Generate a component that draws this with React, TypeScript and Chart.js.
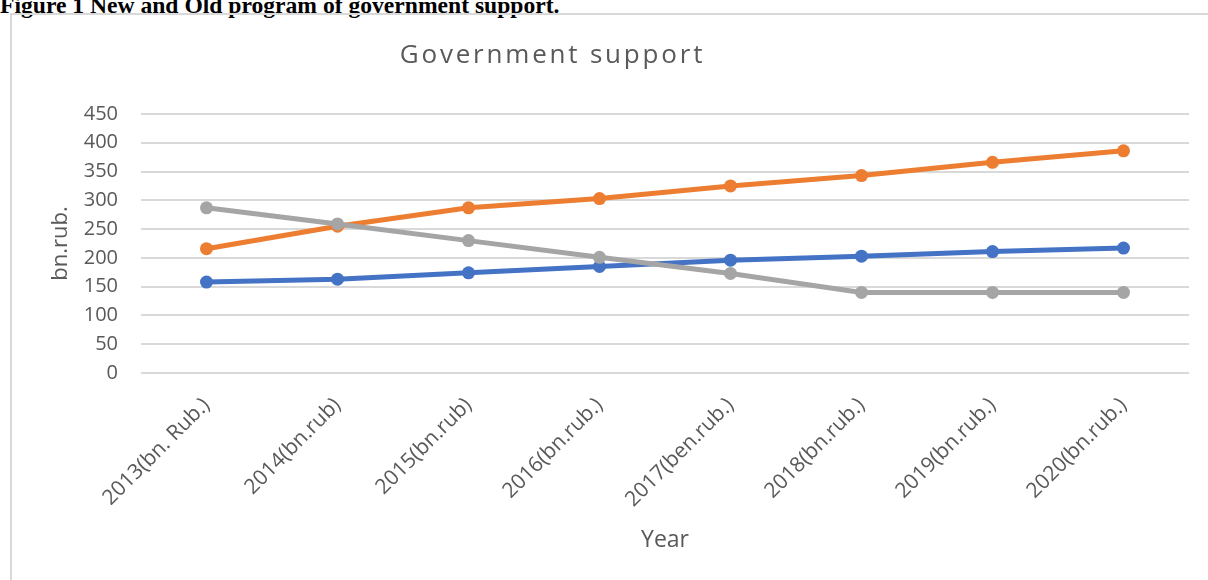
import React, { useEffect, useRef } from "react";
import { Chart, registerables } from "chart.js";

Chart.register(...registerables);

const categories = [
  "2013(bn. Rub.)",
  "2014(bn.rub)",
  "2015(bn.rub)",
  "2016(bn.rub.)",
  "2017(ben.rub.)",
  "2018(bn.rub.)",
  "2019(bn.rub.)",
  "2020(bn.rub.)",
];
const blueSeries = [158, 163, 174, 185, 196, 203, 211, 217];
const orangeSeries = [216, 255, 287, 303, 325, 343, 366, 386];
const graySeries = [287, 259, 230, 201, 173, 140, 140, 140];
const yTickValues = [0, 50, 100, 150, 200, 250, 300, 350, 400, 450];

const headingText = "Figure 1 New and Old program of government support.";
const chartTitle = "Government support";
const xTitle = "Year";
const yTitle = "bn.rub.";

export default function App() {
  const ref = useRef<HTMLCanvasElement | null>(null);

  useEffect(() => {
    if (!ref.current) return;
    const chart = new Chart(ref.current, {
      type: "line",
      data: {
        labels: categories,
        datasets: [
          {
            label: "Series 1",
            data: blueSeries,
            borderColor: "#4472C4",
            backgroundColor: "#4472C4",
            borderWidth: 5,
            pointRadius: 6.5,
            pointBorderWidth: 0,
            pointBackgroundColor: "#4472C4",
            order: 3,
          },
          {
            label: "Series 2",
            data: orangeSeries,
            borderColor: "#ED7D31",
            backgroundColor: "#ED7D31",
            borderWidth: 5,
            pointRadius: 6.5,
            pointBorderWidth: 0,
            pointBackgroundColor: "#ED7D31",
            order: 2,
          },
          {
            label: "Series 3",
            data: graySeries,
            borderColor: "#A5A5A5",
            backgroundColor: "#A5A5A5",
            borderWidth: 5,
            pointRadius: 6.5,
            pointBorderWidth: 0,
            pointBackgroundColor: "#A5A5A5",
            order: 1,
          },
        ],
      },
      options: {
        animation: false,
        responsive: false,
        devicePixelRatio: 1,
        layout: { padding: { top: 114, right: 19, bottom: 0, left: 0 } },
        plugins: {
          legend: { display: false },
          title: { display: false },
          tooltip: { enabled: false },
        },
        scales: {
          x: {
            offset: true,
            grid: { display: false, drawTicks: false },
            border: { display: false },
            ticks: {
              autoSkip: false,
              minRotation: 45,
              maxRotation: 45,
              padding: 20,
              color: "#595959",
              font: { family: "'Open Sans'", size: 21 },
            },
            title: {
              display: true,
              text: xTitle,
              color: "#595959",
              font: { family: "'Open Sans'", size: 23, lineHeight: 1.2 },
              padding: { top: 0, bottom: 26 },
            },
            afterFit: (scale: any) => {
              scale.height = 207;
            },
          },
          y: {
            min: 0,
            max: 450,
            afterBuildTicks: (scale: any) => {
              scale.ticks = yTickValues.map((v) => ({ value: v }));
            },
            grid: { color: "#D9D9D9", lineWidth: 2, drawTicks: false },
            border: { display: false },
            ticks: {
              padding: 23,
              color: "#595959",
              font: { family: "'Open Sans'", size: 20 },
            },
            title: {
              display: true,
              text: yTitle,
              color: "#595959",
              font: { family: "'Open Sans'", size: 22, lineHeight: 1.2 },
              padding: { top: 48, bottom: 0 },
            },
            afterFit: (scale: any) => {
              scale.width = 141;
            },
          },
        },
      },
    });
    return () => chart.destroy();
  }, []);

  return (
    <div
      style={{
        position: "fixed",
        left: 0,
        top: 0,
        width: 1208,
        height: 580,
        overflow: "hidden",
        background: "#ffffff",
      }}
    >
      <div
        style={{
          position: "absolute",
          left: 0,
          top: -7,
          fontFamily: "'Liberation Serif', 'Times New Roman', serif",
          fontWeight: "bold",
          fontSize: 23.6,
          lineHeight: "24px",
          whiteSpace: "nowrap",
          color: "#000",
        }}
      >
        {headingText}
      </div>
      <div
        style={{
          position: "absolute",
          left: 10,
          top: 13,
          width: 1300,
          height: 700,
          borderLeft: "2px solid #D9D9D9",
          borderTop: "2px solid #D9D9D9",
        }}
      />
      <canvas
        ref={ref}
        width={1208}
        height={580}
        style={{ position: "absolute", left: 0, top: 0 }}
      />
      <div
        style={{
          position: "absolute",
          left: 0,
          width: 1105,
          top: 40,
          textAlign: "center",
          fontFamily: "'Open Sans'",
          fontSize: 26,
          lineHeight: "26px",
          letterSpacing: "2.8px",
          color: "#595959",
          whiteSpace: "nowrap",
        }}
      >
        {chartTitle}
      </div>
    </div>
  );
}
